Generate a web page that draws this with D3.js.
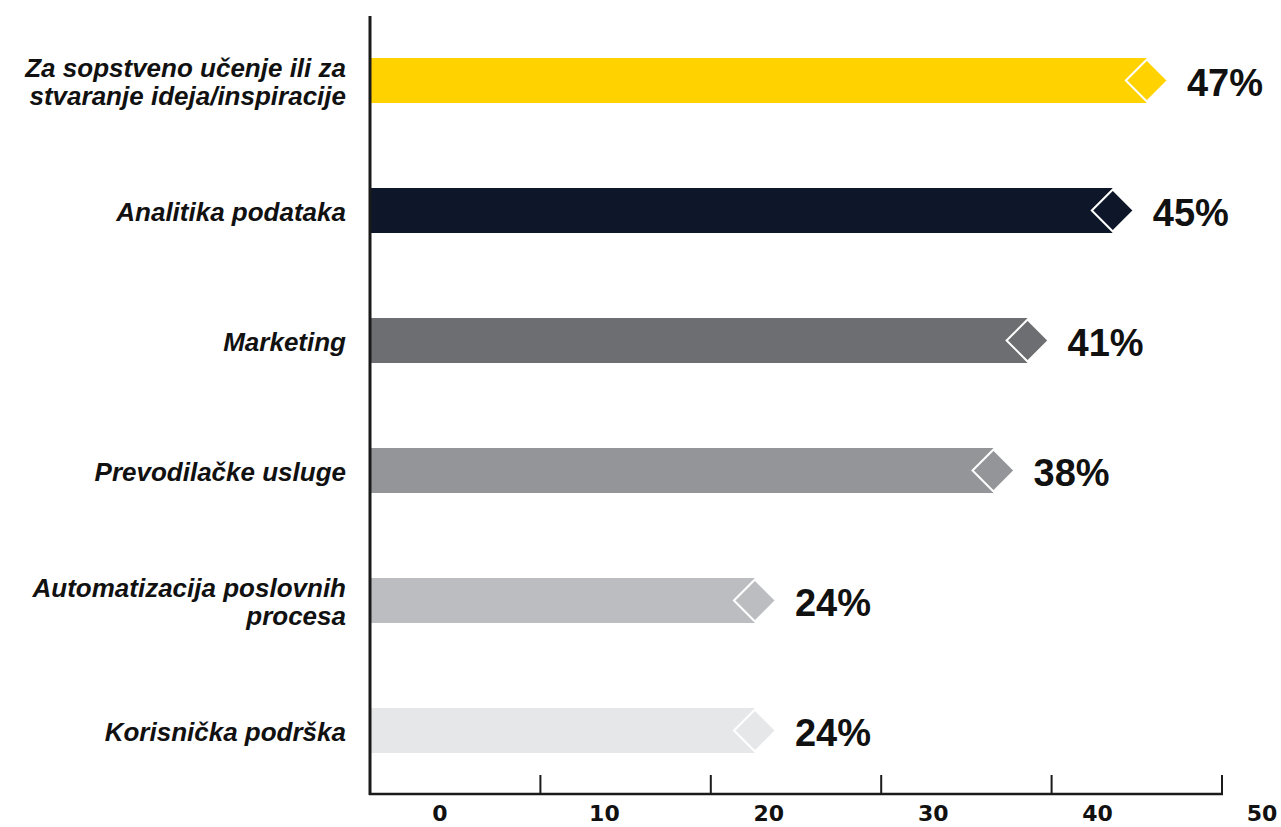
<!DOCTYPE html>
<html>
<head>
<meta charset="utf-8">
<script src="https://cdn.jsdelivr.net/npm/d3@7"></script>
<style>
  body { margin: 0; background: #fff; }
  svg { display: block; }
</style>
</head>
<body>
<div id="chart"><svg width="1281" height="827"></svg></div>
<script>
// data
const categories = [
    ["Za sopstveno učenje ili za", "stvaranje ideja/inspiracije"],
    ["Analitika podataka"],
    ["Marketing"],
    ["Prevodilačke usluge"],
    ["Automatizacija poslovnih", "procesa"],
    ["Korisnička podrška"]
]
const barValues = [47, 45, 40, 38, 24, 24]   // bar lengths as drawn
const valueLabels = ["47%", "45%", "41%", "38%", "24%", "24%"]
const barColors = ["#ffd200", "#0e1729", "#6d6e71", "#939598", "#bcbdc0", "#e6e7e8"]
const tickValues = [0, 10, 20, 30, 40, 50]

const svg = d3.select("#chart").select("svg")
const axisX = 370
const axisBottom = 794

const ids = categories.map((c, i) => i)

const y = d3.scaleBand()
    .domain(ids)
    .range([15.5, 795.5])
    .paddingInner(85 / 130)
    .paddingOuter(42.5 / 130)

// bar scale (bars are clipped at the axis line)
const x = d3.scaleLinear().domain([0, 50]).range([346, 1198])
// tick marks and their labels sit on their own scales in the original
const xTick = d3.scaleLinear().domain([0, 50]).range([370, 1222])
const xLabel = d3.scaleLinear().domain([0, 50]).range([440, 1262])

const g = svg.append("g")

// bars
g.selectAll(".bar")
    .data(ids)
    .enter()
    .append("rect")
    .attr("class", "bar")
    .attr("x", axisX)
    .attr("y", i => y(i))
    .attr("width", i => x(barValues[i]) - axisX)
    .attr("height", y.bandwidth())
    .style("fill", i => barColors[i])

// diamonds at the bar ends
const half = 21
g.selectAll(".diamond")
    .data(ids)
    .enter()
    .append("path")
    .attr("class", "diamond")
    .attr("d", i => {
        const cx = x(barValues[i]), cy = y(i) + y.bandwidth() / 2
        return "M" + (cx - half) + "," + cy + "L" + cx + "," + (cy - half) +
            "L" + (cx + half) + "," + cy + "L" + cx + "," + (cy + half) + "Z"
    })
    .style("fill", i => barColors[i])
    .style("stroke", "#fff")
    .style("stroke-width", 2)

// value labels
g.selectAll(".value")
    .data(ids)
    .enter()
    .append("text")
    .attr("class", "value")
    .attr("x", i => x(barValues[i]) + 40)
    .attr("y", i => y(i) + y.bandwidth() / 2 + 15)
    .style("font-family", "'Liberation Sans', Arial, sans-serif")
    .style("font-weight", "bold")
    .style("font-size", "38px")
    .style("fill", "#111")
    .text(i => valueLabels[i])

// category labels
const cat = g.selectAll(".cat")
    .data(ids)
    .enter()
    .append("text")
    .attr("class", "cat")
    .attr("text-anchor", "end")
    .style("font-family", "'Liberation Sans', Arial, sans-serif")
    .style("font-weight", "bold")
    .style("font-style", "italic")
    .style("font-size", "26px")
    .style("fill", "#111")

cat.each(function (i) {
    const lines = categories[i]
    const cy = y(i) + y.bandwidth() / 2
    const first = lines.length > 1 ? cy - 4 : cy + 10
    lines.forEach((line, k) => {
        d3.select(this).append("tspan")
            .attr("x", 346)
            .attr("y", first + k * 28)
            .text(line)
    })
})

// axis lines
svg.append("line")
    .attr("x1", axisX).attr("x2", axisX)
    .attr("y1", 16).attr("y2", axisBottom + 1)
    .style("stroke", "#1a1a1a")
    .style("stroke-width", 3)

svg.append("line")
    .attr("x1", axisX - 1).attr("x2", xTick(50) + 1)
    .attr("y1", axisBottom).attr("y2", axisBottom)
    .style("stroke", "#1a1a1a")
    .style("stroke-width", 2.5)

svg.selectAll(".tick")
    .data(tickValues.slice(1))
    .enter()
    .append("line")
    .attr("class", "tick")
    .attr("x1", d => xTick(d)).attr("x2", d => xTick(d))
    .attr("y1", 775).attr("y2", axisBottom)
    .style("stroke", "#1a1a1a")
    .style("stroke-width", 2)

svg.selectAll(".tickLabel")
    .data(tickValues)
    .enter()
    .append("text")
    .attr("class", "tickLabel")
    .attr("x", d => xLabel(d))
    .attr("y", 821)
    .attr("text-anchor", "middle")
    .style("font-family", "'DejaVu Sans', sans-serif")
    .style("font-weight", "bold")
    .style("font-size", "22px")
    .style("fill", "#111")
    .text(d => d)
</script>
</body>
</html>
